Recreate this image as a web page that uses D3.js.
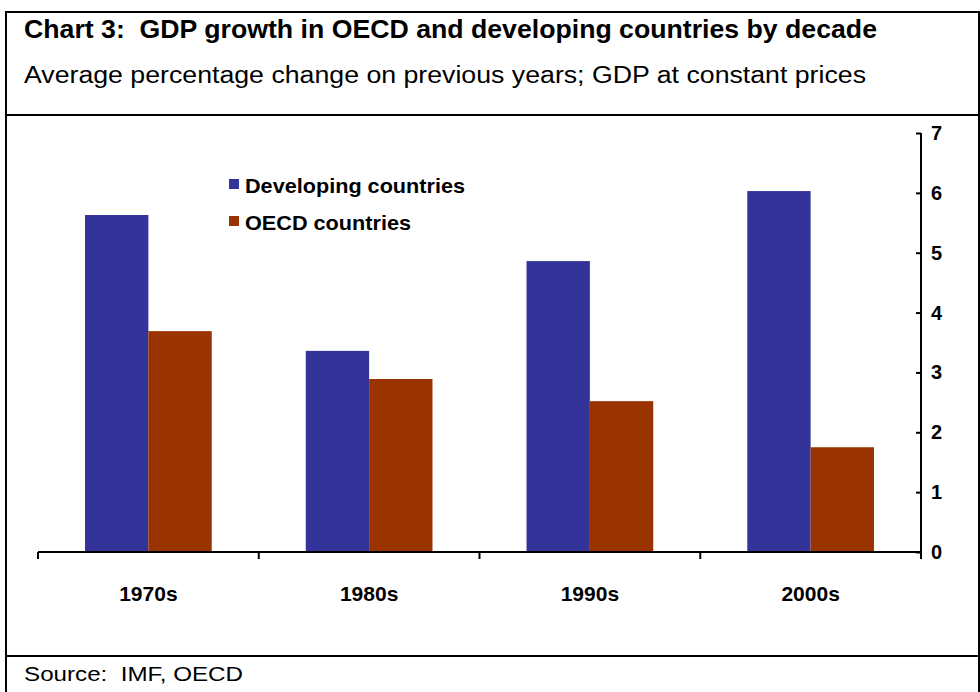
<!DOCTYPE html>
<html><head><meta charset="utf-8">
<script src="https://cdn.jsdelivr.net/npm/d3@7/dist/d3.min.js"></script>
<style>body{margin:0;background:#fff}svg{display:block;font-family:"Liberation Sans",Arial,sans-serif}text{white-space:pre}</style>
</head><body>
<script>
const categories = ["1970s","1980s","1990s","2000s"];
const seriesNames = ["Developing countries","OECD countries"];
const developing = [5.63, 3.36, 4.86, 6.03];
const oecd = [3.69, 2.89, 2.52, 1.75];
const yTicks = [0,1,2,3,4,5,6,7];
const colors = ["#333399","#993300"];
const title = "Chart 3:  GDP growth in OECD and developing countries by decade";
const subtitle = "Average percentage change on previous years; GDP at constant prices";
const source = "Source:  IMF, OECD";

const W = 980, H = 692;
const svg = d3.select("body").append("svg").attr("width", W).attr("height", H);

// frame
const frame = svg.append("g").attr("stroke","#000").attr("stroke-width",2).attr("fill","none");
frame.append("line").attr("x1",6).attr("x2",980).attr("y1",12).attr("y2",12);
frame.append("line").attr("x1",6).attr("x2",6).attr("y1",11).attr("y2",692);
frame.append("line").attr("x1",979).attr("x2",979).attr("y1",11).attr("y2",692);
frame.append("line").attr("x1",6).attr("x2",980).attr("y1",115).attr("y2",115);
frame.append("line").attr("x1",6).attr("x2",980).attr("y1",656).attr("y2",656);

svg.append("text").attr("x",24).attr("y",38).attr("font-size",25).attr("font-weight","bold")
  .attr("textLength",853).attr("lengthAdjust","spacingAndGlyphs").text(title);
svg.append("text").attr("x",24).attr("y",83).attr("font-size",23)
  .attr("textLength",842).attr("lengthAdjust","spacingAndGlyphs").text(subtitle);
svg.append("text").attr("x",24).attr("y",681).attr("font-size",20)
  .attr("textLength",219).attr("lengthAdjust","spacingAndGlyphs").text(source);

const x0 = 38, x1 = 921, yTop = 133, yBot = 552;
const x = d3.scaleBand().domain(categories).range([x0, x1]).paddingInner(0).paddingOuter(0);
const y = d3.scaleLinear().domain([0,7]).range([yBot, yTop]);
const inner = d3.scaleBand().domain([0,1]).range([0, x.bandwidth()*0.574]);
const offset = (x.bandwidth() - x.bandwidth()*0.574)/2;

const data = categories.map((c,i)=>({c, v:[developing[i], oecd[i]]}));
const groups = svg.append("g").selectAll("g").data(data).join("g")
  .attr("transform", d=>`translate(${x(d.c)+offset},0)`);
groups.selectAll("rect").data(d=>d.v.map((v,k)=>({v,k}))).join("rect")
  .attr("x", d=>inner(d.k)).attr("width", inner.bandwidth())
  .attr("y", d=>y(d.v)).attr("height", d=>yBot - y(d.v))
  .attr("fill", d=>colors[d.k]);

// y axis on right
const yAxis = d3.axisLeft(y).tickValues(yTicks).tickSize(5).tickFormat(()=>"");
const ya = svg.append("g").attr("transform",`translate(${x1},0)`).call(yAxis);
ya.select(".domain").attr("stroke","#000").attr("stroke-width",2).attr("d",`M0,${yTop}V${yBot+5}`);
ya.selectAll(".tick line").attr("stroke","#000").attr("stroke-width",2);
svg.append("g").selectAll("text").data(yTicks).join("text")
  .attr("x", 931).attr("y", d=>y(d)+7).attr("font-size",20).attr("font-weight","bold").text(d=>d);

// x axis
const xAxis = d3.axisBottom(x).tickSize(0).tickFormat("");
const xa = svg.append("g").attr("transform",`translate(0,${yBot})`).call(xAxis);
xa.select(".domain").attr("stroke","#000").attr("stroke-width",2).attr("d",`M${x0},0H${x1}`);
xa.selectAll(".tick").remove();
const bounds = categories.map(c=>x(c)).concat([x1]);
svg.append("g").selectAll("line").data(bounds).join("line")
  .attr("x1",d=>d).attr("x2",d=>d).attr("y1",yBot).attr("y2",yBot+7)
  .attr("stroke","#000").attr("stroke-width",2);
svg.append("g").selectAll("text").data(categories).join("text")
  .attr("x", d=>x(d)+x.bandwidth()/2).attr("y", 601).attr("text-anchor","middle")
  .attr("font-size",21).attr("font-weight","bold").text(d=>d);

// legend
const legW = [220, 166];
const leg = svg.append("g").selectAll("g").data(seriesNames).join("g")
  .attr("transform",(d,i)=>`translate(229,${179+i*37})`);
leg.append("rect").attr("width",10).attr("height",10).attr("fill",(d,i)=>colors[i]);
leg.append("text").attr("x",16).attr("y",14).attr("font-size",21).attr("font-weight","bold")
  .attr("textLength",(d,i)=>legW[i]).attr("lengthAdjust","spacingAndGlyphs").text(d=>d);
</script>
</body></html>
